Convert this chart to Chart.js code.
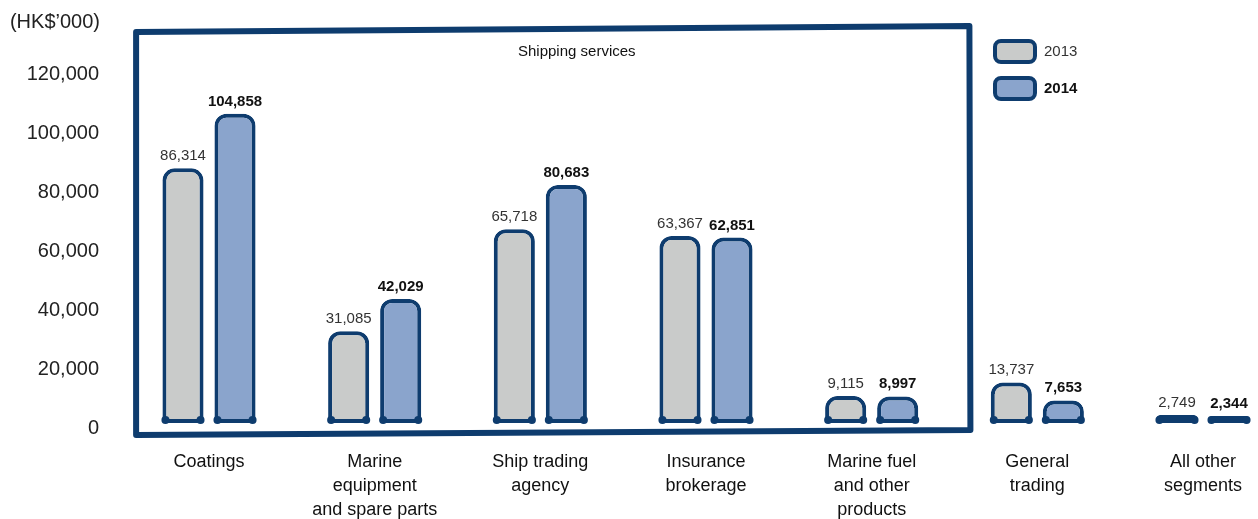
<!DOCTYPE html>
<html>
<head>
<meta charset="utf-8">
<script src="https://cdn.jsdelivr.net/npm/chart.js@4.4.1/dist/chart.umd.min.js"></script>
<style>
  html, body { margin: 0; padding: 0; background: #fff; }
  #wrap { width: 1258px; height: 519px; position: relative; }
</style>
</head>
<body>
<div id="wrap"><canvas id="segmentChart"></canvas></div>
<script>
// Segment revenue, HK$'000
const categories = [
  'Coatings',
  ['Marine', 'equipment', 'and spare parts'],
  ['Ship trading', 'agency'],
  ['Insurance', 'brokerage'],
  ['Marine fuel', 'and other', 'products'],
  ['General', 'trading'],
  ['All other', 'segments']
];
const years = ['2013', '2014'];
const revenue2013 = [86314, 31085, 65718, 63367, 9115, 13737, 2749];
const revenue2014 = [104858, 42029, 80683, 62851, 8997, 7653, 2344];
const yTicks = [0, 20000, 40000, 60000, 80000, 100000, 120000];

const INK = '#0e3c6e';
const GREY = '#c9cbca';
const BLUE = '#8aa4cc';
const FONT = "'Liberation Sans', Arial, Helvetica, sans-serif";

const fmt = (v) => v.toLocaleString('en-US');

// hand-drawn frame around the shipping segments
const frameBox = {
  id: 'frameBox',
  beforeDatasetsDraw(chart) {
    const { ctx, chartArea, scales } = chart;
    const left = scales.x.getPixelForValue(-0.44);
    const right = scales.x.getPixelForValue(4.59);
    const top = chartArea.top;
    const bottom = chartArea.bottom;
    ctx.save();
    ctx.strokeStyle = INK;
    ctx.lineWidth = 6;
    ctx.lineJoin = 'round';
    ctx.lineCap = 'round';
    ctx.beginPath();
    ctx.moveTo(left, bottom + 12);
    ctx.lineTo(left, top - 37);
    ctx.lineTo(right, top - 43);
    ctx.lineTo(right + 1, bottom + 7);
    ctx.closePath();
    ctx.stroke();

    ctx.fillStyle = '#111';
    ctx.font = '15px ' + FONT;
    ctx.textAlign = 'center';
    ctx.textBaseline = 'middle';
    ctx.fillText('Shipping services', scales.x.getPixelForValue(2.22), top - 17);
    ctx.restore();
  }
};

// value labels, stroke dots, legend and unit caption
const annotations = {
  id: 'annotations',
  afterDatasetsDraw(chart) {
    const { ctx } = chart;
    ctx.save();
    chart.data.datasets.forEach((ds, di) => {
      const meta = chart.getDatasetMeta(di);
      meta.data.forEach((bar, i) => {
        const l = bar.x - bar.width / 2;
        const r = bar.x + bar.width / 2;
        ctx.fillStyle = INK;
        [l + 3, r - 3].forEach(px => {
          ctx.beginPath();
          ctx.arc(px, bar.base - 3, 4, 0, Math.PI * 2);
          ctx.fill();
        });
        ctx.fillStyle = di === 0 ? '#333' : '#111';
        ctx.font = (di === 0 ? '' : 'bold ') + '15px ' + FONT;
        ctx.textAlign = 'center';
        ctx.textBaseline = 'alphabetic';
        ctx.fillText(fmt(ds.data[i]), bar.x, bar.y - 8);
      });
    });

    // legend
    chart.data.datasets.forEach((ds, di) => {
      const y = 41 + di * 37;
      ctx.beginPath();
      ctx.roundRect(995, y, 40, 21, 6);
      ctx.fillStyle = ds.backgroundColor;
      ctx.fill();
      ctx.lineWidth = 4;
      ctx.strokeStyle = INK;
      ctx.stroke();
      ctx.fillStyle = di === 0 ? '#333' : '#111';
      ctx.font = (di === 0 ? '' : 'bold ') + '15px ' + FONT;
      ctx.textAlign = 'left';
      ctx.textBaseline = 'middle';
      ctx.fillText(ds.label, 1044, y + 11);
    });

    ctx.fillStyle = '#222';
    ctx.font = '20px ' + FONT;
    ctx.textAlign = 'right';
    ctx.textBaseline = 'middle';
    ctx.fillText('(HK$\u2019000)', 100, 22);
    ctx.restore();
  }
};

const barStyle = {
  borderColor: INK,
  borderWidth: 4,
  borderSkipped: false,
  borderRadius: { topLeft: 12, topRight: 12, bottomLeft: 6, bottomRight: 6 },
  categoryPercentage: 0.628,
  barPercentage: 0.79,
  clip: false
};

new Chart(document.getElementById('segmentChart'), {
  type: 'bar',
  data: {
    labels: categories,
    datasets: [
      { label: years[0], data: revenue2013, backgroundColor: GREY, ...barStyle },
      { label: years[1], data: revenue2014, backgroundColor: BLUE, ...barStyle }
    ]
  },
  options: {
    responsive: true,
    maintainAspectRatio: false,
    animation: false,
    layout: { padding: { top: 69, right: 55, left: 0, bottom: 0 } },
    plugins: {
      legend: { display: false },
      tooltip: { enabled: false }
    },
    scales: {
      x: {
        offset: false,
        grid: { display: false, drawTicks: false },
        border: { display: false },
        ticks: {
          color: '#111',
          font: { family: FONT, size: 18, lineHeight: 1.33 },
          padding: 27,
          maxRotation: 0,
          autoSkip: false
        },
        afterFit(scale) {
          scale.height = 519 - 423;
          scale.paddingLeft = 0;
          scale.paddingRight = 0;
        }
      },
      y: {
        min: 0,
        max: 120000,
        grid: { display: false, drawTicks: false },
        border: { display: false },
        afterBuildTicks(scale) { scale.ticks = yTicks.map(v => ({ value: v })); },
        afterFit(scale) {
          scale.width = 209;
          scale.paddingTop = 0;
          scale.paddingBottom = 0;
        },
        ticks: {
          color: '#222',
          font: { family: FONT, size: 20 },
          padding: 110,
          labelOffset: 5,
          callback: (v) => fmt(v)
        }
      }
    }
  },
  plugins: [frameBox, annotations]
});
</script>
</body>
</html>
